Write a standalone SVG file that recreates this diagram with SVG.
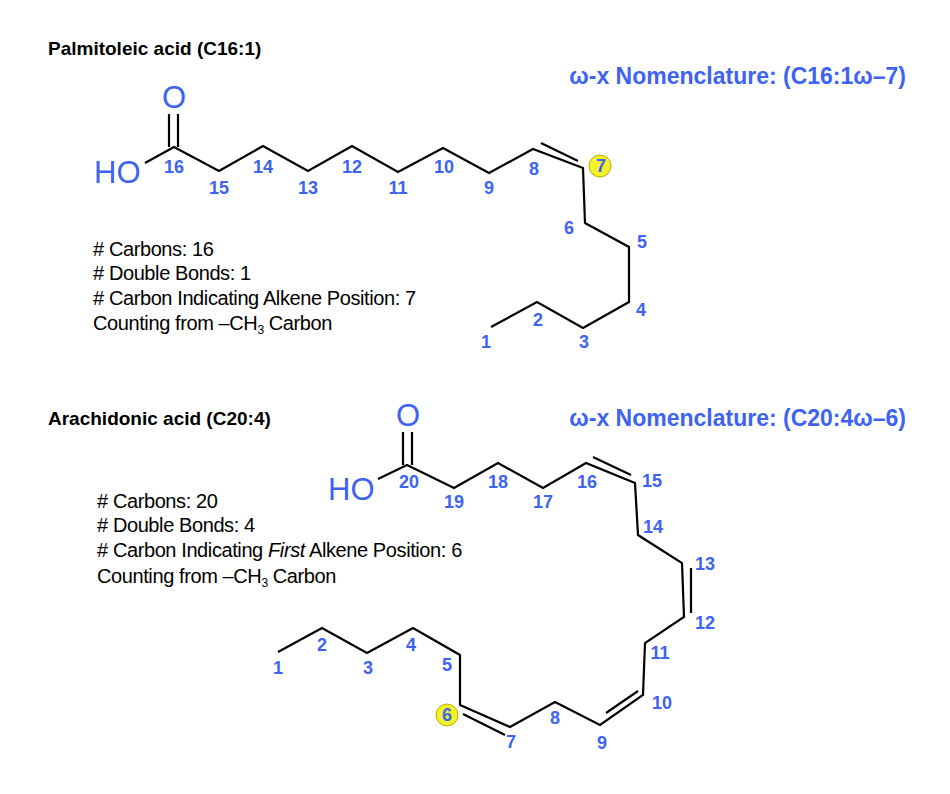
<svg xmlns="http://www.w3.org/2000/svg" width="950" height="794" viewBox="0 0 950 794">
<style>
.t{font-family:"Liberation Sans",Arial,sans-serif;fill:#000}
.h{font-size:19px;font-weight:bold}
.w{font-size:23px;font-weight:bold;fill:#3d63f2;text-anchor:end}
.i{font-size:20px;letter-spacing:-0.4px}
.n{font-family:"Liberation Sans",Arial,sans-serif;font-size:18px;font-weight:bold;fill:#3d63f2;text-anchor:middle}
.a{font-family:"Liberation Sans",Arial,sans-serif;font-size:31px;fill:#3d63f2}
.b{fill:none;stroke:#000;stroke-width:2.2;stroke-linejoin:miter}
.hl{fill:#f4f02a;stroke:#b8b000;stroke-width:1}
</style>
<rect width="950" height="794" fill="#fff"/>
<g id="titles">
<text class="t h" x="48" y="55">Palmitoleic acid (C16:1)</text>
<text class="t w" x="906" y="84">ω-x Nomenclature: (C16:1ω–7)</text>
<text class="t h" x="48" y="425">Arachidonic acid (C20:4)</text>
<text class="t w" x="906" y="426">ω-x Nomenclature: (C20:4ω–6)</text>
</g>
<g id="info1" class="t i">
<text x="93" y="256"># Carbons: 16</text>
<text x="93" y="280"># Double Bonds: 1</text>
<text x="93" y="305"># Carbon Indicating Alkene Position: 7</text>
<text x="93" y="330">Counting from –CH<tspan font-size="12" dy="4">3</tspan><tspan dy="-4"> Carbon</tspan></text>
</g>
<g id="info2" class="t i">
<text x="97" y="508"># Carbons: 20</text>
<text x="97" y="532"># Double Bonds: 4</text>
<text x="97" y="557"># Carbon Indicating <tspan font-style="italic">First</tspan> Alkene Position: 6</text>
<text x="97" y="583">Counting from –CH<tspan font-size="12" dy="4">3</tspan><tspan dy="-4"> Carbon</tspan></text>
</g>
<g id="palmitoleic">
<path class="b" d="M145,163 L174,147 L219,171 L263,146 L308,171 L352,146 L398,172 L443,148 L489,173 L533,149 L583,168 L585,223 L629,247 L629,302 L583,328 L537,302 L491,327"/>
<path class="b" d="M169,147 L169,114 M178,147 L178,114 M541,143 L578,161"/>
<text class="a" x="162" y="108">O</text>
<text class="a" x="94" y="183">HO</text>
<circle class="hl" cx="600" cy="166" r="11"/>
<g>
<text class="n" x="174" y="173">16</text><text class="n" x="219" y="194">15</text><text class="n" x="263" y="173">14</text>
<text class="n" x="308" y="194">13</text><text class="n" x="352" y="173">12</text><text class="n" x="398" y="194">11</text>
<text class="n" x="444" y="173">10</text><text class="n" x="489" y="194">9</text><text class="n" x="534" y="175">8</text>
<text class="n" x="601" y="172">7</text><text class="n" x="569" y="234">6</text><text class="n" x="642" y="248">5</text>
<text class="n" x="641" y="316">4</text><text class="n" x="584" y="348">3</text><text class="n" x="538" y="326">2</text>
<text class="n" x="486" y="348">1</text>
</g>
</g>
<g id="arachidonic">
<path class="b" d="M378,479 L407,465 L454,488 L498,463 L543,488 L586,463 L635,483 L638,535 L682,563 L684,617 L645,643 L643,695 L600,725 L555,702 L510,727 L460,705 L460,655 L413,628 L367,653 L322,628 L278,652"/>
<path class="b" d="M403,465 L403,432 M412,465 L412,432 M593,457 L631,475 M691,568 L691,613 M606,713 L638,691 M463,714 L505,735"/>
<text class="a" x="396" y="426">O</text>
<text class="a" x="328" y="500">HO</text>
<circle class="hl" cx="447" cy="715" r="11"/>
<g>
<text class="n" x="409" y="488">20</text><text class="n" x="454" y="508">19</text><text class="n" x="498" y="488">18</text>
<text class="n" x="543" y="508">17</text><text class="n" x="587" y="488">16</text><text class="n" x="652" y="487">15</text>
<text class="n" x="653" y="533">14</text><text class="n" x="705" y="570">13</text><text class="n" x="705" y="629">12</text>
<text class="n" x="660" y="659">11</text><text class="n" x="662" y="709">10</text><text class="n" x="602" y="749">9</text>
<text class="n" x="555" y="724">8</text><text class="n" x="511" y="748">7</text><text class="n" x="447" y="721">6</text>
<text class="n" x="447" y="671">5</text><text class="n" x="411" y="651">4</text><text class="n" x="368" y="674">3</text>
<text class="n" x="322" y="651">2</text><text class="n" x="278" y="674">1</text>
</g>
</g>
</svg>
